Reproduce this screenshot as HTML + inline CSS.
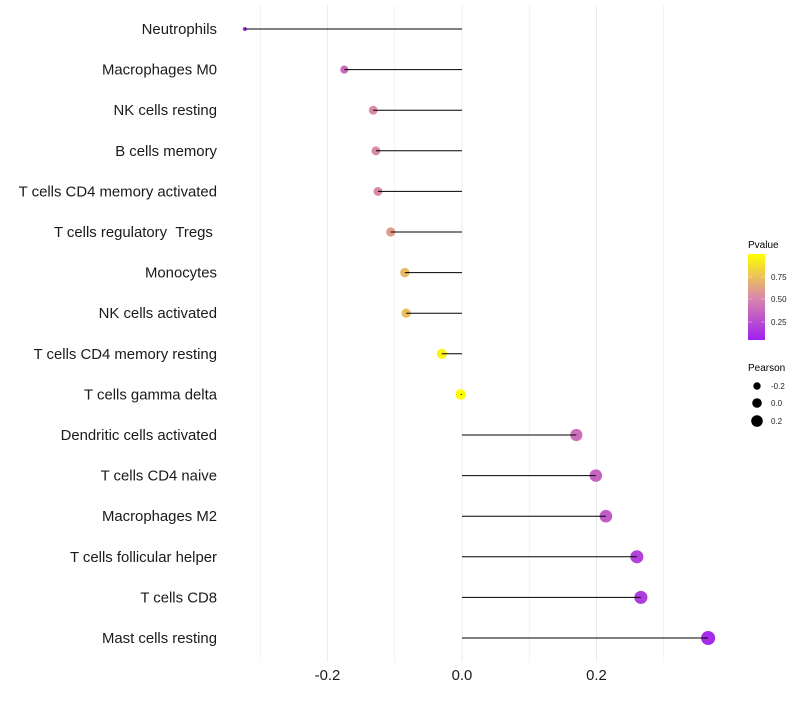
<!DOCTYPE html>
<html><head><meta charset="utf-8"><style>
body{margin:0;background:#fff;}
svg text{font-family:"Liberation Sans",sans-serif;}
</style></head><body>
<svg id="chart" width="800" height="700" xmlns="http://www.w3.org/2000/svg">
<defs><linearGradient id="pg" x1="0" y1="1" x2="0" y2="0">
<stop offset="0" stop-color="#a020f0"/><stop offset="0.5" stop-color="#d98aa8"/><stop offset="1" stop-color="#ffff00"/>
</linearGradient></defs>
<g id="grid"></g>
<g id="ylabels"></g>
<g id="xlabels"></g>
<g id="marks"></g>
<g>
<text x="748" y="248" font-size="10" fill="#000">Pvalue</text>
<rect x="748" y="254" width="17" height="86" fill="url(#pg)"/>
<g stroke="#fff" stroke-width="0.6" opacity="0.6"><line x1="748" x2="752" y1="277" y2="277"/><line x1="761" x2="765" y1="277" y2="277"/><line x1="748" x2="752" y1="299" y2="299"/><line x1="761" x2="765" y1="299" y2="299"/><line x1="748" x2="752" y1="322" y2="322"/><line x1="761" x2="765" y1="322" y2="322"/></g>
<text x="771" y="280" font-size="8" fill="#222">0.75</text>
<text x="771" y="302" font-size="8" fill="#222">0.50</text>
<text x="771" y="325" font-size="8" fill="#222">0.25</text>
</g>
<g>
<text x="748" y="371" font-size="10" fill="#000">Pearson</text>
<circle cx="757" cy="386" r="3.7" fill="#000"/><text x="771" y="389" font-size="8" fill="#222">-0.2</text>
<circle cx="757" cy="403" r="4.8" fill="#000"/><text x="771" y="406" font-size="8" fill="#222">0.0</text>
<circle cx="757" cy="421" r="5.8" fill="#000"/><text x="771" y="424" font-size="8" fill="#222">0.2</text>
</g>
</svg>
<script>
const categories=["Neutrophils","Macrophages M0","NK cells resting","B cells memory","T cells CD4 memory activated","T cells regulatory\u00a0\u00a0Tregs\u00a0","Monocytes","NK cells activated","T cells CD4 memory resting","T cells gamma delta","Dendritic cells activated","T cells CD4 naive","Macrophages M2","T cells follicular helper","T cells CD8","Mast cells resting"];
const pearson=[-0.323,-0.175,-0.132,-0.128,-0.125,-0.106,-0.085,-0.083,-0.030,-0.002,0.170,0.199,0.214,0.260,0.266,0.366];
const pvalue=[0.04,0.36,0.5,0.5,0.5,0.58,0.7,0.72,0.95,1.0,0.38,0.32,0.28,0.16,0.13,0.05];
const xTicks=[-0.2,0.0,0.2];
const xGrid=[-0.3,-0.2,-0.1,0,0.1,0.2,0.3];
const NS="http://www.w3.org/2000/svg";
const X=v=>462+v*672.5;
const Y=i=>29+i*40.6;
function mk(t,a,p){const e=document.createElementNS(NS,t);for(const k in a)e.setAttribute(k,a[k]);p.appendChild(e);return e;}
function lerp(a,b,t){return a.map((v,i)=>Math.round(v+(b[i]-v)*t));}
function pcol(p){const lo=[160,32,240],mid=[217,138,168],hi=[255,255,0];const c=p<0.5?lerp(lo,mid,p/0.5):lerp(mid,hi,(p-0.5)/0.5);return `rgb(${c})`;}
const pmin=Math.min(...pearson);
function rad(v){return Math.sqrt(4+60*(v-pmin)+ (v>pmin?4:0));}
const grid=document.getElementById('grid');
xGrid.forEach(v=>{const l=mk('line',{x1:X(v),x2:X(v),y1:5,y2:662,stroke:'#ebebeb','stroke-width':Math.abs(v*10)%2<0.01?1:0.6},grid);

});
const yl=document.getElementById('ylabels');
categories.forEach((c,i)=>{const t=mk('text',{x:217,y:Y(i)+5,'text-anchor':'end','font-size':14.9,fill:'#1a1a1a'},yl);t.textContent=c;

});
const xl=document.getElementById('xlabels');
xTicks.forEach(v=>{const t=mk('text',{x:X(v),y:680,'text-anchor':'middle','font-size':14.9,fill:'#1a1a1a'},xl);t.textContent=v.toFixed(1);

});
const m=document.getElementById('marks');
pearson.forEach((v,i)=>{
const c=mk('circle',{cx:X(v),cy:Y(i),r:rad(v),fill:pcol(pvalue[i])},m);


const l=mk('line',{x1:X(0),x2:X(v),y1:Y(i),y2:Y(i),stroke:'#000','stroke-width':1},m);


});
</script>
</body></html>
